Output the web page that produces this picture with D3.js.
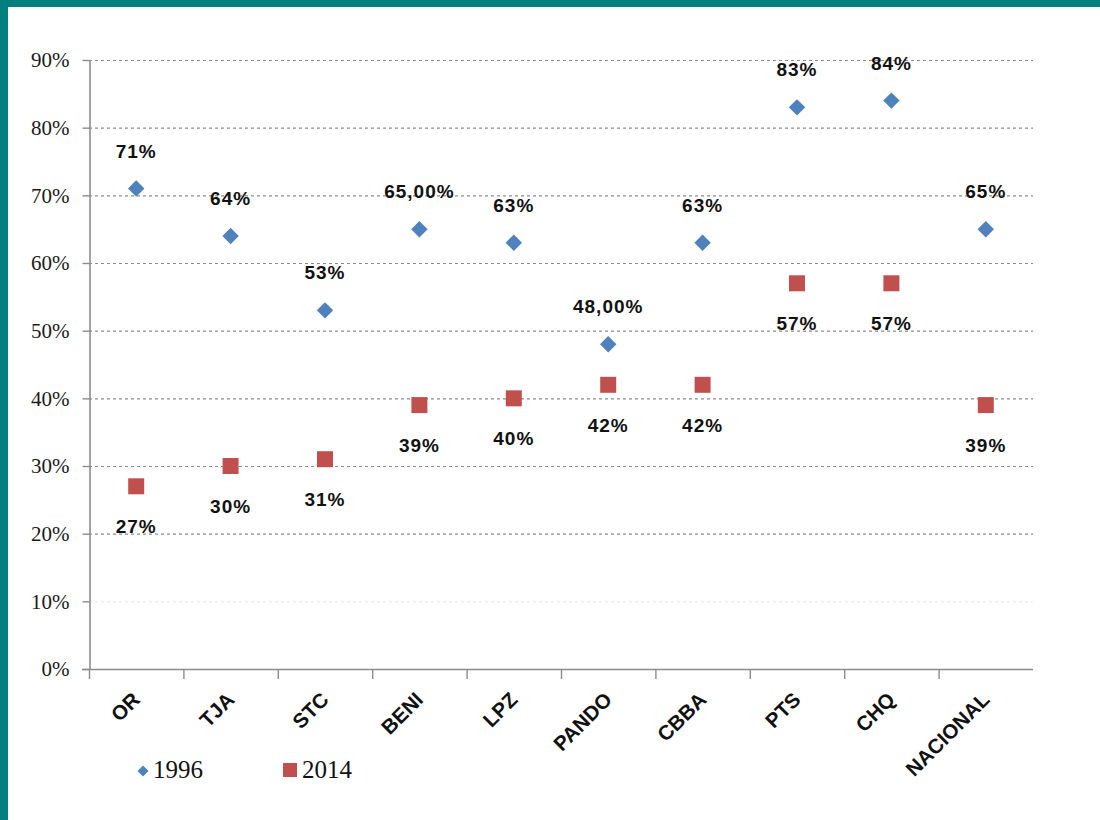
<!DOCTYPE html>
<html><head><meta charset="utf-8">
<script src="https://cdn.jsdelivr.net/npm/d3@7"></script>
<style>
html,body{margin:0;padding:0;background:#fff;}
svg{display:block;}
</style></head>
<body>
<svg id="c" width="1100" height="820"></svg>
<script>
const categories = ["OR","TJA","STC","BENI","LPZ","PANDO","CBBA","PTS","CHQ","NACIONAL"];
const values1996 = [0.71,0.64,0.53,0.65,0.63,0.48,0.63,0.83,0.84,0.65];
const values2014 = [0.27,0.30,0.31,0.39,0.40,0.42,0.42,0.57,0.57,0.39];
const labels1996 = ["71%","64%","53%","65,00%","63%","48,00%","63%","83%","84%","65%"];
const labels2014 = ["27%","30%","31%","39%","40%","42%","42%","57%","57%","39%"];
const yTicks = [0,0.1,0.2,0.3,0.4,0.5,0.6,0.7,0.8,0.9];
const seriesNames = ["1996","2014"];

const svg = d3.select("#c");
const teal = "#007f7f";
svg.append("rect").attr("x",0).attr("y",0).attr("width",1100).attr("height",7).attr("fill",teal);
svg.append("rect").attr("x",0).attr("y",0).attr("width",8).attr("height",820).attr("fill",teal);

const x = d3.scaleBand().domain(categories).range([89,1033]).padding(0);
const y = d3.scaleLinear().domain([0,0.9]).range([669,60]);

// gridlines
svg.append("g").selectAll("line").data(yTicks.filter(t=>t>0)).join("line")
  .attr("x1",89).attr("x2",1033)
  .attr("y1",d=>y(d)+0.5).attr("y2",d=>y(d)+0.5)
  .attr("stroke",d=>Math.abs(d-0.1)<1e-9?"#ececec":"#8c8c8c")
  .attr("stroke-width",1.2)
  .attr("stroke-dasharray","3,3");

// y axis
const yAxis = d3.axisLeft(y).tickValues(yTicks).tickFormat(d3.format(".0%")).tickSize(7).tickSizeOuter(0).tickPadding(13);
const gy = svg.append("g").attr("transform","translate(89.5,0)").call(yAxis);
gy.select(".domain").attr("stroke","#8c8c8c").attr("stroke-width",1.6);
gy.selectAll(".tick line").attr("stroke","#8c8c8c").attr("stroke-width",1.4);
gy.selectAll(".tick text").attr("font-family","'Liberation Serif',serif").attr("font-size",21).attr("fill","#1a1a1a").attr("dy","0.33em");

// x axis
svg.append("line").attr("x1",82).attr("x2",1033).attr("y1",669.5).attr("y2",669.5).attr("stroke","#8c8c8c").attr("stroke-width",1.6);
svg.append("g").selectAll("line").data(categories).join("line")
  .attr("x1",d=>x(d)+0.5).attr("x2",d=>x(d)+0.5)
  .attr("y1",669).attr("y2",679)
  .attr("stroke","#8c8c8c").attr("stroke-width",1.4);
svg.append("g").selectAll("text").data(categories).join("text")
  .attr("transform",d=>`translate(${x(d)+x.bandwidth()/2+5},701) rotate(-45)`)
  .attr("text-anchor","end")
  .attr("font-family","'Liberation Sans',Arial,sans-serif")
  .attr("font-weight","bold").attr("font-size",20.5)
  .attr("fill","#111")
  .text(d=>d);

const cx = d=>x(d)+x.bandwidth()/2;
const blue = "#4f81bd", red = "#c0504d";

// 1996 diamonds
const diamond = d3.symbol().type(d3.symbolSquare).size(135);
svg.append("g").selectAll("path").data(categories).join("path")
  .attr("d",diamond)
  .attr("transform",(d,i)=>`translate(${cx(d)},${y(values1996[i])}) rotate(45)`)
  .attr("fill",blue);
// 2014 squares
const square = d3.symbol().type(d3.symbolSquare).size(256);
svg.append("g").selectAll("path").data(categories).join("path")
  .attr("d",square)
  .attr("transform",(d,i)=>`translate(${cx(d)},${y(values2014[i])})`)
  .attr("fill",red);

// data labels
const lblFont = "'Liberation Sans',Arial,sans-serif";
svg.append("g").selectAll("text").data(categories).join("text")
  .attr("x",d=>cx(d)).attr("y",(d,i)=>y(values1996[i])-31)
  .attr("text-anchor","middle").attr("font-family",lblFont).attr("font-weight","bold")
  .attr("font-size",19).attr("letter-spacing",1).attr("fill","#111")
  .text((d,i)=>labels1996[i]);
svg.append("g").selectAll("text").data(categories).join("text")
  .attr("x",d=>cx(d)).attr("y",(d,i)=>y(values2014[i])+47)
  .attr("text-anchor","middle").attr("font-family",lblFont).attr("font-weight","bold")
  .attr("font-size",19).attr("letter-spacing",1).attr("fill","#111")
  .text((d,i)=>labels2014[i]);

// legend
const lg = svg.append("g");
lg.append("path").attr("d",d3.symbol().type(d3.symbolSquare).size(60)).attr("transform","translate(143,771) rotate(45)").attr("fill",blue);
lg.append("text").attr("x",153).attr("y",778).attr("font-family","'Liberation Serif',serif").attr("font-size",25).attr("fill","#111").text(seriesNames[0]);
lg.append("rect").attr("x",283).attr("y",763).attr("width",14).attr("height",14).attr("fill",red);
lg.append("text").attr("x",302).attr("y",778).attr("font-family","'Liberation Serif',serif").attr("font-size",25).attr("fill","#111").text(seriesNames[1]);
</script>
</body></html>
